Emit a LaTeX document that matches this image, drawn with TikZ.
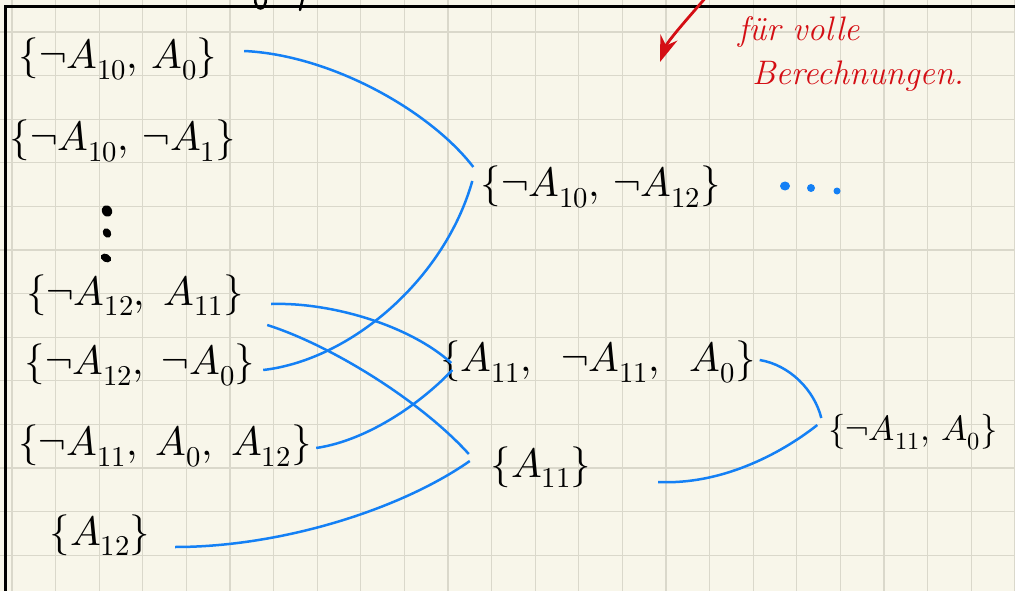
\documentclass[tikz,border=0pt]{standalone}
\usepackage{unicode-math}
\usepackage{graphicx}
\usetikzlibrary{arrows.meta,calc}
\definecolor{paper}{HTML}{F8F6EA}
\definecolor{gridcol}{HTML}{DAD8CB}
\definecolor{linkblue}{HTML}{1480F5}
\definecolor{redink}{HTML}{D40E14}
\newcommand\clausebox[1]{\makebox[0pt][c]{$#1$}}
\begin{document}
\begin{tikzpicture}[x=1pt,y=-1pt,
  clause/.style={inner sep=0pt, font=\fontsize{41}{50}\selectfont},
  smallclause/.style={inner sep=0pt, font=\fontsize{35}{42}\selectfont},
  link/.style={draw=linkblue, line width=2.5pt},
  gridline/.style={draw=gridcol, line width=1.3pt},
  notetext/.style={text=redink, inner sep=0pt, font=\fontsize{34}{40}\selectfont\itshape},
  inkdot/.style={fill=black},
  bluedot/.style={fill=linkblue}]
\useasboundingbox (0,0) rectangle (1015,591);
\fill[paper] (0,0) rectangle (1015,591);
% grid
\foreach \i in {0,...,23} \draw[gridline] ({12+43.6*\i},0) -- ({12+43.6*\i},591);
\foreach \j in {0,...,12} \draw[gridline] (0,{32+43.6*\j}) -- (1015,{32+43.6*\j});
% frame
\draw[line width=3pt] (5,591) -- (5,7) -- (1015,7);
% cut-off ink at the top
\draw[line width=2.5pt, line cap=round] (255,-2) .. controls (255,12) and (266,12) .. (266,-2);
\draw[line width=2.5pt, line cap=round] (303,-2) -- (300,10);
% clauses
\node[clause, minimum width=208pt, minimum height=58pt] (a) at (118,59) {\clausebox{\{\neg A_{10},\, A_0\}}};
\node[clause, minimum width=218pt, minimum height=73pt] (b) at (123,141) {\clausebox{\{\neg A_{10},\, \neg A_1\}}};
\node[clause, minimum width=220pt, minimum height=66pt] (c) at (135,295) {\clausebox{\{\neg A_{12},\; A_{11}\}}};
\node[clause, minimum width=230pt, minimum height=60pt] (d) at (140,365) {\clausebox{\{\neg A_{12},\; \neg A_0\}}};
\node[clause, minimum width=270pt, minimum height=63pt] (e) at (165,446) {\clausebox{\{\neg A_{11},\; A_0,\; A_{12}\}}};
\node[clause, minimum width=120pt, minimum height=60pt] (f) at (100,535) {\clausebox{\{A_{12}\}}};
\node[clause, minimum width=227pt, minimum height=75pt] (g) at (601,187) {\clausebox{\{\neg A_{10},\, \neg A_{12}\}}};
\node[clause, minimum width=293pt, minimum height=75pt] (h) at (598,362) {\clausebox{\{A_{11},\;\; \neg A_{11},\;\; A_0\}}};
\node[clause, minimum width=112pt, minimum height=65pt] (i) at (541,467) {\clausebox{\{A_{11}\}}};
\node[smallclause, minimum width=147pt, minimum height=85pt] (j) at (913,432) {\clausebox{\{\neg A_{11},\, A_0\}}};
% vertical dots
\fill[inkdot, rotate around={30:(107,211)}] (107,211) ellipse (5pt and 6pt);
\fill[inkdot, rotate around={30:(107,233)}] (107,233) ellipse (4pt and 5pt);
\fill[inkdot, rotate around={60:(106,258)}] (106,258) ellipse (4pt and 5.5pt);
% blue dots
\fill[bluedot] (785,186) ellipse (5pt and 4.5pt);
\fill[bluedot] (811,188) ellipse (4pt and 4pt);
\fill[bluedot] (837,191) ellipse (3.5pt and 3.5pt);
% connectors
\draw[link] ($(a.east)+(22,-8)$) .. controls +(86,4) and +(-44,-57) .. ($(g.west)+(-14,-20)$);
\draw[link] ($(d.east)+(8,5)$) .. controls +(87,-10) and +(-28,99) .. ($(g.west)+(-15,-6)$);
\draw[link] ($(c.east)+(26,9)$) .. controls +(59,-2) and +(-42,-38) .. ($(h.west)+(0,1)$);
\draw[link] ($(e.east)+(16,2)$) .. controls +(54,-8) and +(-28,30) .. ($(h.west)+(1,8)$);
\draw[link] ($(c.east)+(22,30)$) .. controls +(63,20) and +(-49,-54) .. ($(i.west)+(-16,-13)$);
\draw[link] ($(f.east)+(15,12)$) .. controls +(105,0) and +(-70,49) .. ($(i.west)+(-15,-6)$);
\draw[link] ($(h.east)+(15,-2)$) .. controls +(30,5) and +(-7,-28) .. ($(j.west)+(-18,-14)$);
\draw[link] ($(i.east)+(61,15)$) .. controls +(62,3) and +(-38,30) .. ($(j.west)+(-22,-7)$);
% red note
\coordinate (arrowtail) at (707,-4);
\coordinate (arrowtip) at (660,62);
\draw[redink, line width=2.8pt, -{Stealth[length=26pt,width=18pt]}] (arrowtail) .. controls +(-10,12) and +(8,-22) .. (arrowtip);
\node[notetext, anchor=west] (note1) at (738,32) {für volle};
\node[notetext, anchor=west] (note2) at (752,76) {Berechnungen.};
\end{tikzpicture}
\end{document}
